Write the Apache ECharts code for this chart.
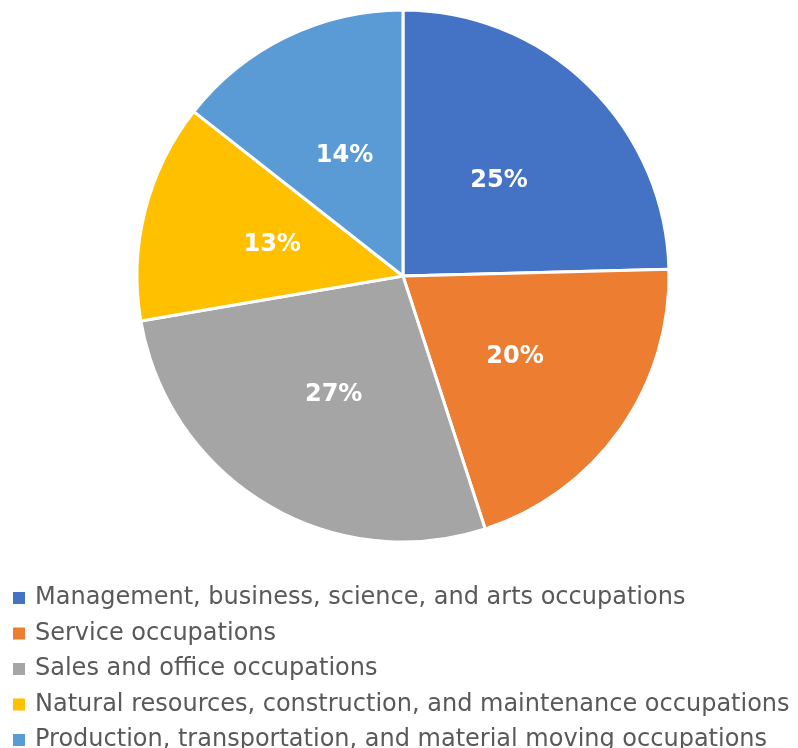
<!DOCTYPE html>
<html><head><meta charset="utf-8">
<script src="https://cdn.jsdelivr.net/npm/echarts@6/dist/echarts.min.js"></script>
<style>html,body{margin:0;padding:0;background:#fff;overflow:hidden}#c{width:798px;height:900px}</style>
</head><body><div id="c"></div>
<script>
var categories = [
  "Management, business, science, and arts occupations",
  "Service occupations",
  "Sales and office occupations",
  "Natural resources, construction, and maintenance occupations",
  "Production, transportation, and material moving occupations"
];
var values = [24.6, 20.4, 27.3, 13.3, 14.4];
var colors = ["#4472C4", "#ED7D31", "#A5A5A5", "#FFC000", "#5B9BD5"];

var chart = echarts.init(document.getElementById('c'));
chart.setOption({
  animation: false,
  color: colors,
  legend: {
    orient: 'vertical',
    left: 13,
    top: 586,
    padding: 0,
    itemWidth: 12,
    itemHeight: 12,
    itemGap: 11.5,
    icon: 'rect',
    itemStyle: { borderWidth: 0 },
    textStyle: { fontFamily: 'DejaVu Sans', fontSize: 24, color: '#595959', lineHeight: 24, padding: [0, 0, 0, 5] },
    data: categories
  },
  series: [{
    type: 'pie',
    center: [403, 276],
    radius: [0, 266],
    startAngle: 90,
    clockwise: true,
    itemStyle: { borderColor: '#fff', borderWidth: 3 },
    label: {
      position: 'inside',
      color: '#fff',
      fontFamily: 'DejaVu Sans',
      fontWeight: 'bold',
      fontSize: 24,
      offset: [1, 2],
      formatter: function (p) { return Math.round(p.value) + '%'; }
    },
    labelLine: { show: false },
    emphasis: { disabled: true },
    data: categories.map(function (c, i) { return { name: c, value: values[i] }; })
  }]
});
</script></body></html>
